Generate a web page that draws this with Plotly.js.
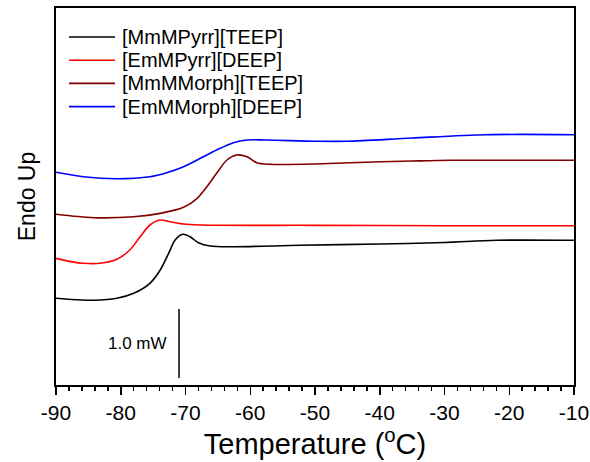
<!DOCTYPE html>
<html>
<head>
<meta charset="utf-8">
<script src="https://cdn.plot.ly/plotly-3.0.1.min.js"></script>
<style>html,body{margin:0;padding:0;background:#fff;}#chart{width:590px;height:462px;}</style>
</head>
<body>
<div id="chart"></div>
<script>
// Temperature (°C) and heat flow (mW, arbitrary offset) for each sample
const seriesNames = ["[MmMPyrr][TEEP]", "[EmMPyrr][DEEP]", "[MmMMorph][TEEP]", "[EmMMorph][DEEP]"];
const seriesColors = ["#000000", "#ff0000", "#800000", "#0000ff"];

const tBlack = [-90, -87, -84.2, -80.6, -78.0, -75.5, -73.9, -72.6, -71.6, -70.4, -69.3, -68.0, -66.2, -62.6, -52.3, -40, -30, -22, -10];
const yBlack = [1.257, 1.236, 1.228, 1.257, 1.329, 1.474, 1.667, 1.909, 2.101, 2.184, 2.149, 2.062, 2.014, 2.004, 2.025, 2.043, 2.065, 2.097, 2.097];

const tRed = [-90, -87.5, -85.8, -83.2, -80.6, -78.6, -77.0, -75.5, -73.9, -72.4, -70.3, -67.7, -50, -30, -10];
const yRed = [1.836, 1.785, 1.764, 1.764, 1.822, 1.957, 2.149, 2.319, 2.391, 2.367, 2.333, 2.319, 2.314, 2.309, 2.309];

const tBrown = [-90, -84.2, -78, -73.9, -70.3, -68.2, -66.7, -65.2, -63.6, -62.1, -60.5, -59.0, -57.0, -50, -44.6, -35, -29, -10];
const yBrown = [2.474, 2.425, 2.439, 2.488, 2.575, 2.706, 2.874, 3.068, 3.261, 3.333, 3.309, 3.222, 3.199, 3.203, 3.222, 3.246, 3.257, 3.257];

const tBlue = [-90, -85.8, -80.6, -75.5, -72.9, -70.3, -67.7, -65.2, -62.6, -60.5, -57.5, -50, -45, -35, -23.5, -10];
const yBlue = [3.083, 3.019, 2.990, 3.019, 3.077, 3.164, 3.286, 3.406, 3.512, 3.551, 3.551, 3.533, 3.532, 3.580, 3.628, 3.628];

const xTickVals = [-90, -80, -70, -60, -50, -40, -30, -20, -10];
const xTickText = ["-90", "-80", "-70", "-60", "-50", "-40", "-30", "-20", "-10"];

// scale bar: 1.0 mW
const scaleBarT = -71;
const scaleBarY = [0.10, 1.10];
const scaleBarLabel = "1.0 mW";

const xs = [tBlack, tRed, tBrown, tBlue];
const ys = [yBlack, yRed, yBrown, yBlue];

const FONT = "Liberation Sans, Arial, Helvetica, sans-serif";
const W = 590, H = 462, ML = 56, MR = 16, MT = 8, MB = 77;
const PW = W - ML - MR, PH = H - MT - MB;
const px2x = p => (p - ML) / PW;
const px2y = p => (H - MB - p) / PH;

const traces = xs.map((x, i) => ({
  x: x, y: ys[i], type: "scatter", mode: "lines", name: seriesNames[i],
  line: {color: seriesColors[i], width: 1.6, shape: "spline", smoothing: 0.9}
}));

// legend drawn in paper space (sample line + label)
const legendShapes = seriesNames.map((n, i) => ({
  type: "line", xref: "paper", yref: "paper",
  x0: px2x(69), x1: px2x(115), y0: px2y(37 + 23.2 * i), y1: px2y(37 + 23.2 * i),
  line: {color: seriesColors[i], width: 1.6}
}));
const legendLabels = seriesNames.map((n, i) => ({
  xref: "paper", yref: "paper", x: px2x(120), y: px2y(37 + 23.2 * i),
  text: n, showarrow: false, xanchor: "left", yanchor: "middle",
  font: {size: 20, family: FONT, color: "#000"}
}));

const layout = {
  width: W, height: H,
  margin: {l: ML, r: MR, t: MT, b: MB},
  paper_bgcolor: "#fff", plot_bgcolor: "#fff",
  font: {family: FONT, color: "#000"},
  showlegend: false,
  xaxis: {
    range: [-90, -10], tickvals: xTickVals, ticktext: xTickText,
    ticks: "outside", ticklen: 8, tickwidth: 1.5, tickcolor: "#000",
    minor: {dtick: 2, ticks: "outside", ticklen: 4, tickwidth: 1.5, tickcolor: "#000"},
    showline: true, linecolor: "#000", linewidth: 2, mirror: true,
    showgrid: false, zeroline: false,
    tickfont: {size: 21, family: FONT},
    title: {text: "Temperature (<sup>o</sup>C)", font: {size: 29, family: FONT}, standoff: 10}
  },
  yaxis: {
    range: [0, 5.464], showticklabels: false, ticks: "",
    showline: true, linecolor: "#000", linewidth: 2, mirror: true,
    showgrid: false, zeroline: false,
    title: {text: "Endo Up", font: {size: 23, family: FONT}, standoff: 12}
  },
  shapes: [{type: "line", xref: "x", yref: "y", x0: scaleBarT, x1: scaleBarT,
            y0: scaleBarY[0], y1: scaleBarY[1], line: {color: "#000", width: 1.5}}].concat(legendShapes),
  annotations: [{xref: "x", yref: "y", x: scaleBarT - 1.5, y: (scaleBarY[0] + scaleBarY[1]) / 2,
                 text: scaleBarLabel, showarrow: false, xanchor: "right", yanchor: "middle",
                 font: {size: 17, family: FONT, color: "#000"}}].concat(legendLabels)
};

Plotly.newPlot("chart", traces, layout, {staticPlot: true, displayModeBar: false});
</script>
</body>
</html>
